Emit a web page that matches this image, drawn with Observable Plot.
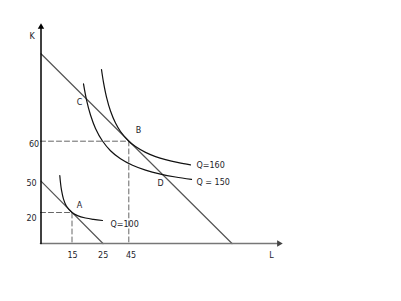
<!DOCTYPE html>
<html>
<head>
<meta charset="utf-8">
<script src="https://cdn.jsdelivr.net/npm/d3@7"></script>
<script src="https://cdn.jsdelivr.net/npm/@observablehq/plot@0.6"></script>
<style>
  html, body { margin: 0; padding: 0; background: #fff; }
  #chart svg { display: block; }
</style>
</head>
<body>
<div id="chart"></div>
<script>
// Diagram units (the original diagram is not drawn to scale)
// Isoquant Q=100
const q100X = [19.3, 20, 21, 23, 26, 31.5, 37, 45, 53, 62];
const q100Y = [68, 60.7, 53.3, 44.4, 37.2, 31, 27.9, 25.5, 24.1, 23];
// Isoquant Q=160 (outer, tangent at B)
const q160X = [61, 63, 66, 70, 75, 80, 88.3, 95, 105, 115, 125, 138, 150];
const q160Y = [174, 161.1, 146.4, 132.5, 120.5, 112, 102.3, 96.9, 91.1, 86.9, 83.8, 80.8, 78.7];
// Isoquant Q=150 (through C and D)
const q150X = [43, 46, 50, 55, 62, 70, 80, 92, 105, 120, 135, 151];
const q150Y = [159.6, 143.7, 128.5, 115.1, 102.5, 92.8, 84.7, 78.2, 73.35, 69.4, 66.5, 64.1];
// Isocost lines
const iso1X = [0.5, 62.5], iso1Y = [62.3, 0];
const iso2X = [0.5, 191.5], iso2Y = [189.7, 0];
// Guide (dashed) lines to A and B
const guideAX = [0, 31.5, 31.5], guideAY = [31, 31, 0];
const guideBX = [0, 88.3, 88.3], guideBY = [102.3, 102.3, 0];
// Tick labels
const xTickLabels = ["15", "25", "45"];
const xTickPos = [32, 62.7, 90.5];
const yTickLabels = ["60", "50", "20"];
const yTickPos = [99.5, 60, 25.5];
const yTickX = [-6.5, -9, -9];
// Point labels
const ptLabels = ["A", "B", "C", "D"];
const ptX = [39, 98, 39, 120];
const ptY = [38, 113, 141.3, 60];
// Curve labels
const qLabels = ["Q=100", "Q=160", "Q = 150"];
const qX = [70, 156, 156];
const qY = [19, 78.5, 61];
// Axis names
const axisNames = ["K", "L"];
const axisNameX = [-8.3, 231];
const axisNameY = [207, -12];

const pts = (xs, ys) => xs.map((x, i) => ({x, y: ys[i]}));
const font = "DejaVu Sans, Verdana, sans-serif";
const txt = "#1c1c2a";

const chart = Plot.plot({
  width: 401,
  height: 301,
  style: {background: "#fff", fontFamily: font},
  x: {type: "linear", domain: [0, 240], range: [40, 280], axis: null},
  y: {type: "linear", domain: [0, 218], range: [243, 25], axis: null},
  marks: [
    // dashed guides
    Plot.line(pts(guideAX, guideAY), {x: "x", y: "y", stroke: "#666", strokeWidth: 1, strokeDasharray: "5,3"}),
    Plot.line(pts(guideBX, guideBY), {x: "x", y: "y", stroke: "#666", strokeWidth: 1, strokeDasharray: "5,3"}),
    // isocost lines
    Plot.line(pts(iso1X, iso1Y), {x: "x", y: "y", stroke: "#555", strokeWidth: 1.2}),
    Plot.line(pts(iso2X, iso2Y), {x: "x", y: "y", stroke: "#555", strokeWidth: 1.2}),
    // isoquants
    Plot.line(pts(q100X, q100Y), {x: "x", y: "y", stroke: "#111", strokeWidth: 1.2, curve: "catmull-rom"}),
    Plot.line(pts(q160X, q160Y), {x: "x", y: "y", stroke: "#111", strokeWidth: 1.2, curve: "catmull-rom"}),
    Plot.line(pts(q150X, q150Y), {x: "x", y: "y", stroke: "#111", strokeWidth: 1.2, curve: "catmull-rom"}),
    // axes
    Plot.line(pts([0, 238], [0, 0]), {x: "x", y: "y", stroke: "#777", strokeWidth: 1.6}),
    Plot.line(pts([0.5, 0.5], [0, 216]), {x: "x", y: "y", stroke: "#000", strokeWidth: 1.5}),
    Plot.dot([{x: 0.5, y: 216.5}], {x: "x", y: "y", symbol: "triangle", r: 2.4, fill: "#000", stroke: "none"}),
    Plot.dot([{x: 238.5, y: 0}], {x: "x", y: "y", symbol: "triangle", r: 2.4, fill: "#444", stroke: "none", rotate: 90}),
    // tick labels
    Plot.text(xTickLabels, {x: (d, i) => xTickPos[i], y: -12, text: d => d, fontSize: 8, fill: txt}),
    Plot.text(yTickLabels, {x: (d, i) => yTickX[i], y: (d, i) => yTickPos[i], text: d => d, fontSize: 8, fill: txt}),
    // point labels
    Plot.text(ptLabels, {x: (d, i) => ptX[i], y: (d, i) => ptY[i], text: d => d, fontSize: 8, fill: txt}),
    // curve labels
    Plot.text(qLabels, {x: (d, i) => qX[i], y: (d, i) => qY[i], text: d => d, fontSize: 8, fill: txt, textAnchor: "start"}),
    // axis names
    Plot.text(axisNames, {x: (d, i) => axisNameX[i], y: (d, i) => axisNameY[i], text: d => d, fontSize: 8, fill: txt})
  ]
});
document.getElementById("chart").appendChild(chart);
</script>
</body>
</html>
